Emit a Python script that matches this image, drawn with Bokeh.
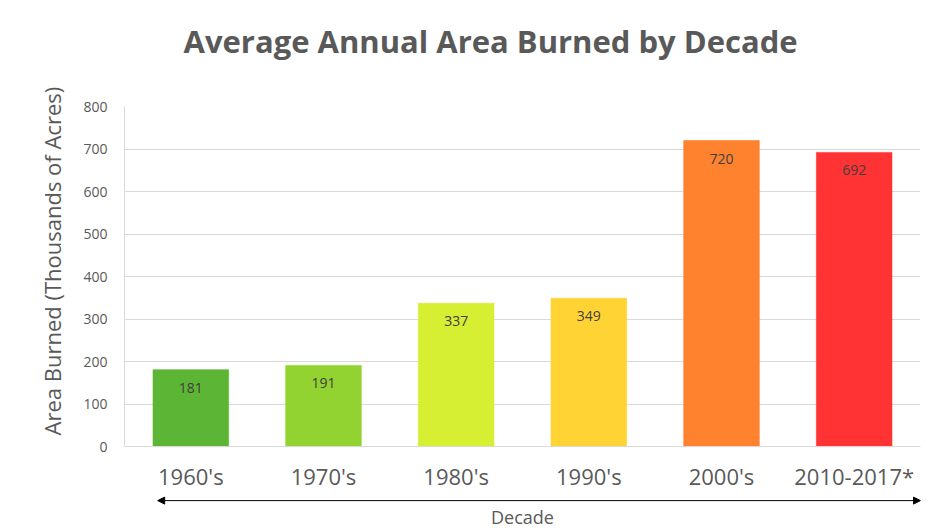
from bokeh.plotting import figure
from bokeh.models import (ColumnDataSource, FactorRange, Range1d, FixedTicker, Arrow,
                          NormalHead, Title)
from bokeh.core.properties import value
from bokeh.embed import file_html
from bokeh.resources import INLINE

decades = ["1960's", "1970's", "1980's", "1990's", "2000's", "2010-2017*"]
area = [181, 191, 337, 349, 720, 692]
colors = ["#5db535", "#92d332", "#d6ef33", "#ffd333", "#ff822e", "#ff3333"]
y_ticks = [0, 100, 200, 300, 400, 500, 600, 700, 800]
title_text = "Average Annual Area Burned by Decade"
y_label_text = "Area Burned (Thousands of Acres)"

src = ColumnDataSource(dict(decade=decades, area=area, color=colors,
                            label=[str(v) for v in area]))

p = figure(width=934, height=532, output_backend="svg", toolbar_location=None,
           x_range=FactorRange(factors=decades, range_padding=0),
           y_range=Range1d(-202, 800),
           min_border_left=124, min_border_right=14, min_border_top=106, min_border_bottom=0)

p.title = Title(text=title_text + "\n", align="left", offset=59, standoff=6,
                text_font="Open Sans", text_font_style="bold", text_font_size="31px",
                text_color="#595959")

p.add_layout(Title(text=y_label_text, align="left", offset=97, standoff=28,
                   text_font="Open Sans", text_font_style="normal", text_font_size="22px",
                   text_color="#595959"), "left")

p.vbar(x="decade", top="area", width=0.57, fill_color="color", line_color="color",
       line_alpha=0.6, source=src)
p.text(x="decade", y="area", text="label", source=src, text_align="center",
       text_baseline="top", y_offset=13, text_font=value("Open Sans"),
       text_font_size="14px", text_color="#404040")

p.outline_line_color = None
p.xgrid.grid_line_color = None
p.ygrid.grid_line_color = "#d9d9d9"
p.ygrid.grid_line_width = 1

p.yaxis.ticker = FixedTicker(ticks=y_ticks)
p.yaxis.bounds = (0, 800)
p.yaxis.axis_line_color = "#d9d9d9"
p.yaxis.major_tick_line_color = None
p.yaxis.minor_tick_line_color = None
p.yaxis.major_label_text_font = "Open Sans"
p.yaxis.major_label_text_font_size = "14px"
p.yaxis.major_label_text_color = "#595959"
p.yaxis.major_label_standoff = 11

p.xaxis.fixed_location = 0
p.xaxis.axis_line_color = "#d9d9d9"
p.xaxis.major_tick_line_color = None
p.xaxis.major_label_text_font = "Open Sans"
p.xaxis.major_label_text_font_size = "22px"
p.xaxis.major_label_text_color = "#595959"
p.xaxis.major_label_standoff = 8
p.xaxis.axis_label = "Decade"
p.xaxis.axis_label_text_font = "Open Sans"
p.xaxis.axis_label_text_font_style = "normal"
p.xaxis.axis_label_text_font_size = "18px"
p.xaxis.axis_label_text_color = "#595959"
p.xaxis.axis_label_standoff = 11

p.add_layout(Arrow(start=NormalHead(size=7, fill_color="black", line_color="black"),
                   end=NormalHead(size=7, fill_color="black", line_color="black"),
                   x_start=0.25, y_start=-127, x_end=6.0, y_end=-127,
                   line_color="black", line_width=1))

open("out.html", "w").write(file_html(p, INLINE))
